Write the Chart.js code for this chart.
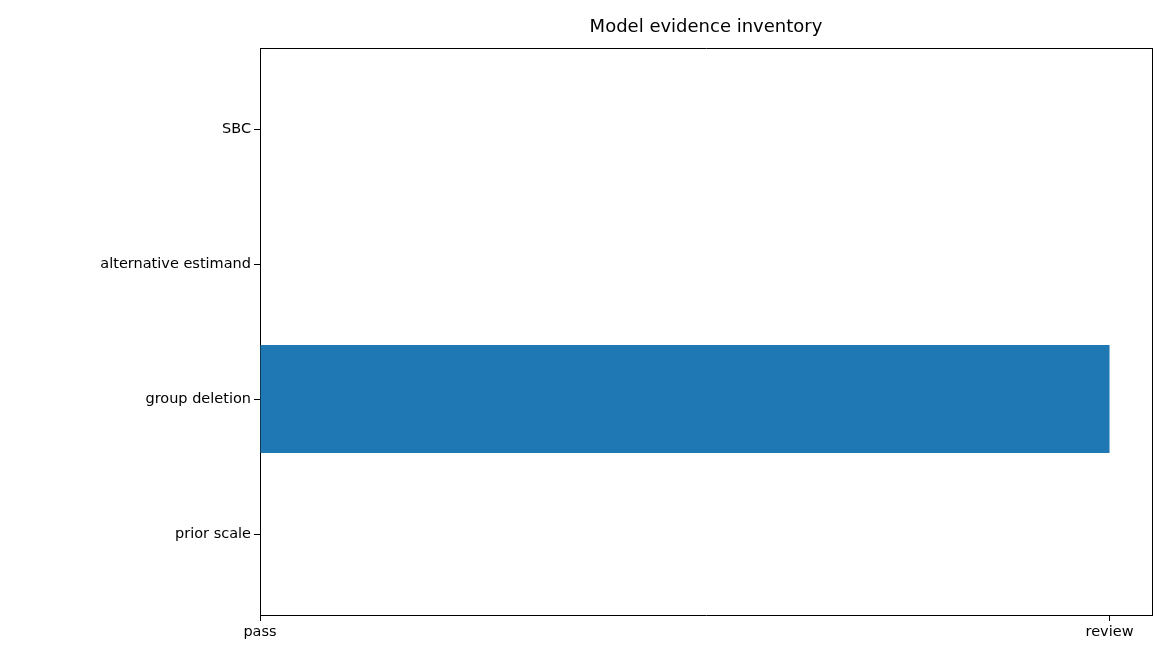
<!DOCTYPE html>
<html><head><meta charset="utf-8">
<script src="https://cdn.jsdelivr.net/npm/chart.js@4"></script>
<style>body{margin:0;background:#fff}</style>
</head><body>
<canvas id="c" width="1168" height="670"></canvas>
<script>
const categories = ["prior scale", "group deletion", "alternative estimand", "SBC"];
const values = [0, 1, 0, 0];
const xTickLabels = ["pass", "review"];
const title = "Model evidence inventory";

const titlePlugin = {
  id: 'titleP',
  afterDraw(chart) {
    const ctx = chart.ctx;
    ctx.save();
    ctx.font = '18px "DejaVu Sans"';
    ctx.fillStyle = '#000';
    ctx.textAlign = 'center';
    ctx.textBaseline = 'middle';
    const a = chart.chartArea;
    ctx.fillText(title, (a.left + a.right) / 2, 27);
    ctx.restore();
  }
};

new Chart(document.getElementById('c'), {
  type: 'bar',
  data: {
    datasets: [{
      data: categories.map((c, i) => ({ x: values[i], y: i })),
      backgroundColor: '#1f77b4',
      barPercentage: 0.8,
      categoryPercentage: 1
    }]
  },
  options: {
    indexAxis: 'y',
    responsive: false,
    animation: false,
    layout: { padding: { top: 48, right: 16, left: 0, bottom: 0 } },
    plugins: { legend: { display: false }, tooltip: { enabled: false } },
    scales: {
      x: {
        type: 'linear', min: 0, max: 1.05,
        afterBuildTicks(s) { s.ticks = [{ value: 0 }, { value: 1 }]; },
        afterFit(s) { s.height = 55; },
        ticks: { callback: (v) => xTickLabels[Math.round(v)], color: '#000', font: { family: 'DejaVu Sans', size: 14.5 }, maxRotation: 0, autoSkip: false },
        grid: { drawOnChartArea: false, tickLength: 6, color: '#000' },
        border: { display: true, color: '#000' }
      },
      y: {
        type: 'linear', min: -0.6, max: 3.6, offset: false,
        afterBuildTicks(s) { s.ticks = categories.map((c, i) => ({ value: i })); },
        afterFit(s) { s.width = 260; },
        ticks: { callback: (v) => categories[Math.round(v)], color: '#000', font: { family: 'DejaVu Sans', size: 14.5 }, autoSkip: false },
        grid: { drawOnChartArea: false, offset: false, tickLength: 6, color: '#000' },
        border: { display: true, color: '#000' }
      },
      x2: {
        type: 'linear', position: 'top', display: true,
        afterFit(s) { s.height = 0; },
        ticks: { display: false }, grid: { display: false },
        border: { display: true, color: '#000' }
      },
      y2: {
        type: 'linear', position: 'right', display: true,
        afterFit(s) { s.width = 0; },
        ticks: { display: false }, grid: { display: false },
        border: { display: true, color: '#000' }
      }
    }
  },
  plugins: [titlePlugin]
});
</script>
</body></html>
